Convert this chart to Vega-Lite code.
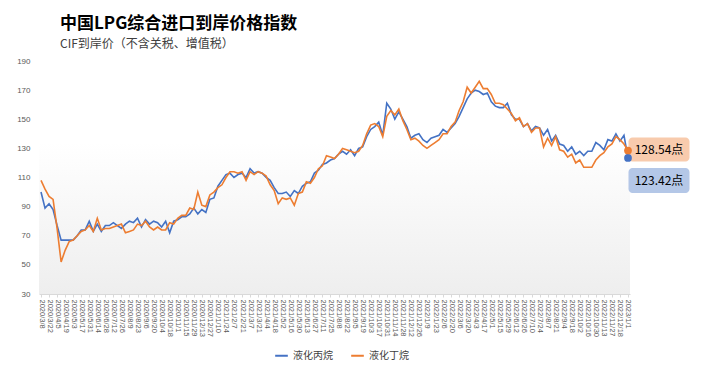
{
  "$schema": "https://vega.github.io/schema/vega-lite/v6.json",
  "width": 591,
  "height": 233,
  "autosize": "none",
  "padding": {"left": 39, "top": 61, "right": 72, "bottom": 77},
  "background": "white",
  "title": {
    "text": "中国LPG综合进口到岸价格指数",
    "subtitle": "CIF到岸价（不含关税、增值税）",
    "anchor": "start",
    "frame": "group",
    "dx": 21,
    "offset": 6,
    "font": "Noto Sans CJK SC",
    "fontSize": 17,
    "fontWeight": "bold",
    "color": "#000000",
    "subtitleFont": "Noto Sans CJK SC",
    "subtitleFontSize": 12,
    "subtitleColor": "#404040",
    "subtitlePadding": 6
  },
  "config": {
    "font": "Noto Sans CJK SC",
    "view": {
      "stroke": null,
      "fill": {"gradient": "linear", "x1": 0, "y1": 0, "x2": 0, "y2": 1,
        "stops": [{"offset": 0, "color": "#ffffff"}, {"offset": 0.35, "color": "#ffffff"}, {"offset": 1, "color": "#eeeeee"}]}
    }
  },
  "datasets": {
    "main": [
      {"d":"2020/3/8","液化丙烷":100,"液化丁烷":108},
      {"d":"2020/3/15","液化丙烷":89,"液化丁烷":102},
      {"d":"2020/3/22","液化丙烷":92,"液化丁烷":97},
      {"d":"2020/3/29","液化丙烷":88,"液化丁烷":95},
      {"d":"2020/4/5","液化丙烷":77,"液化丁烷":75},
      {"d":"2020/4/12","液化丙烷":67,"液化丁烷":52},
      {"d":"2020/4/19","液化丙烷":67,"液化丁烷":60},
      {"d":"2020/4/26","液化丙烷":67,"液化丁烷":66},
      {"d":"2020/5/3","液化丙烷":67,"液化丁烷":67},
      {"d":"2020/5/10","液化丙烷":70,"液化丁烷":70},
      {"d":"2020/5/17","液化丙烷":74,"液化丁烷":73},
      {"d":"2020/5/24","液化丙烷":74,"液化丁烷":74},
      {"d":"2020/5/31","液化丙烷":80,"液化丁烷":77},
      {"d":"2020/6/7","液化丙烷":73,"液化丁烷":73},
      {"d":"2020/6/14","液化丙烷":78,"液化丁烷":82},
      {"d":"2020/6/21","液化丙烷":73,"液化丁烷":74},
      {"d":"2020/6/28","液化丙烷":77,"液化丁烷":75},
      {"d":"2020/7/5","液化丙烷":77,"液化丁烷":75},
      {"d":"2020/7/12","液化丙烷":79,"液化丁烷":76},
      {"d":"2020/7/19","液化丙烷":77,"液化丁烷":77},
      {"d":"2020/7/26","液化丙烷":75,"液化丁烷":78},
      {"d":"2020/8/2","液化丙烷":78,"液化丁烷":72},
      {"d":"2020/8/9","液化丙烷":80,"液化丁烷":73},
      {"d":"2020/8/16","液化丙烷":79,"液化丁烷":74},
      {"d":"2020/8/23","液化丙烷":82,"液化丁烷":78},
      {"d":"2020/8/30","液化丙烷":76,"液化丁烷":77},
      {"d":"2020/9/6","液化丙烷":81,"液化丁烷":80},
      {"d":"2020/9/13","液化丙烷":78,"液化丁烷":76},
      {"d":"2020/9/20","液化丙烷":80,"液化丁烷":74},
      {"d":"2020/9/27","液化丙烷":79,"液化丁烷":76},
      {"d":"2020/10/4","液化丙烷":76,"液化丁烷":74},
      {"d":"2020/10/11","液化丙烷":80,"液化丁烷":74},
      {"d":"2020/10/18","液化丙烷":72,"液化丁烷":79},
      {"d":"2020/10/25","液化丙烷":80,"液化丁烷":78},
      {"d":"2020/11/1","液化丙烷":81,"液化丁烷":82},
      {"d":"2020/11/8","液化丙烷":83,"液化丁烷":84},
      {"d":"2020/11/15","液化丙烷":83,"液化丁烷":84},
      {"d":"2020/11/22","液化丙烷":85,"液化丁烷":89},
      {"d":"2020/11/29","液化丙烷":89,"液化丁烷":88},
      {"d":"2020/12/6","液化丙烷":85,"液化丁烷":100},
      {"d":"2020/12/13","液化丙烷":88,"液化丁烷":91},
      {"d":"2020/12/20","液化丙烷":86,"液化丁烷":90},
      {"d":"2020/12/27","液化丙烷":95,"液化丁烷":98},
      {"d":"2021/1/3","液化丙烷":96,"液化丁烷":100},
      {"d":"2021/1/10","液化丙烷":104,"液化丁烷":103},
      {"d":"2021/1/17","液化丙烷":108,"液化丁烷":105},
      {"d":"2021/1/24","液化丙烷":112,"液化丁烷":110},
      {"d":"2021/1/31","液化丙烷":113,"液化丁烷":114},
      {"d":"2021/2/7","液化丙烷":110,"液化丁烷":114},
      {"d":"2021/2/14","液化丙烷":112,"液化丁烷":113},
      {"d":"2021/2/21","液化丙烷":113,"液化丁烷":114},
      {"d":"2021/2/28","液化丙烷":110,"液化丁烷":108},
      {"d":"2021/3/7","液化丙烷":116,"液化丁烷":114},
      {"d":"2021/3/14","液化丙烷":113,"液化丁烷":112},
      {"d":"2021/3/21","液化丙烷":114,"液化丁烷":114},
      {"d":"2021/3/28","液化丙烷":113,"液化丁烷":113},
      {"d":"2021/4/4","液化丙烷":110,"液化丁烷":111},
      {"d":"2021/4/11","液化丙烷":108,"液化丁烷":105},
      {"d":"2021/4/18","液化丙烷":103,"液化丁烷":101},
      {"d":"2021/4/25","液化丙烷":99,"液化丁烷":92},
      {"d":"2021/5/2","液化丙烷":99,"液化丁烷":96},
      {"d":"2021/5/9","液化丙烷":100,"液化丁烷":95},
      {"d":"2021/5/16","液化丙烷":97,"液化丁烷":96},
      {"d":"2021/5/23","液化丙烷":101,"液化丁烷":91},
      {"d":"2021/5/30","液化丙烷":99,"液化丁烷":99},
      {"d":"2021/6/6","液化丙烷":104,"液化丁烷":100},
      {"d":"2021/6/13","液化丙烷":106,"液化丁烷":107},
      {"d":"2021/6/20","液化丙烷":107,"液化丁烷":106},
      {"d":"2021/6/27","液化丙烷":113,"液化丁烷":110},
      {"d":"2021/7/4","液化丙烷":115,"液化丁烷":116},
      {"d":"2021/7/11","液化丙烷":119,"液化丁烷":118},
      {"d":"2021/7/18","液化丙烷":120,"液化丁烷":125},
      {"d":"2021/7/25","液化丙烷":122,"液化丁烷":124},
      {"d":"2021/8/1","液化丙烷":123,"液化丁烷":123},
      {"d":"2021/8/8","液化丙烷":126,"液化丁烷":126},
      {"d":"2021/8/15","液化丙烷":128,"液化丁烷":130},
      {"d":"2021/8/22","液化丙烷":126,"液化丁烷":129},
      {"d":"2021/8/29","液化丙烷":129,"液化丁烷":128},
      {"d":"2021/9/5","液化丙烷":125,"液化丁烷":127},
      {"d":"2021/9/12","液化丙烷":130,"液化丁烷":128},
      {"d":"2021/9/19","液化丙烷":131,"液化丁烷":132},
      {"d":"2021/9/26","液化丙烷":138,"液化丁烷":140},
      {"d":"2021/10/3","液化丙烷":143,"液化丁烷":146},
      {"d":"2021/10/10","液化丙烷":145,"液化丁烷":147},
      {"d":"2021/10/17","液化丙烷":148,"液化丁烷":145},
      {"d":"2021/10/24","液化丙烷":139,"液化丁烷":138},
      {"d":"2021/10/31","液化丙烷":161,"液化丁烷":152},
      {"d":"2021/11/7","液化丙烷":157,"液化丁烷":156},
      {"d":"2021/11/14","液化丙烷":150,"液化丁烷":153},
      {"d":"2021/11/21","液化丙烷":155,"液化丁烷":157},
      {"d":"2021/11/28","液化丙烷":150,"液化丁烷":149},
      {"d":"2021/12/5","液化丙烷":145,"液化丁烷":143},
      {"d":"2021/12/12","液化丙烷":137,"液化丁烷":136},
      {"d":"2021/12/19","液化丙烷":139,"液化丁烷":137},
      {"d":"2021/12/26","液化丙烷":140,"液化丁烷":135},
      {"d":"2022/1/2","液化丙烷":136,"液化丁烷":132},
      {"d":"2022/1/9","液化丙烷":134,"液化丁烷":130},
      {"d":"2022/1/16","液化丙烷":137,"液化丁烷":132},
      {"d":"2022/1/23","液化丙烷":138,"液化丁烷":134},
      {"d":"2022/1/30","液化丙烷":139,"液化丁烷":136},
      {"d":"2022/2/6","液化丙烷":143,"液化丁烷":140},
      {"d":"2022/2/13","液化丙烷":141,"液化丁烷":140},
      {"d":"2022/2/20","液化丙烷":144,"液化丁烷":145},
      {"d":"2022/2/27","液化丙烷":147,"液化丁烷":148},
      {"d":"2022/3/6","液化丙烷":152,"液化丁烷":156},
      {"d":"2022/3/13","液化丙烷":158,"液化丁烷":162},
      {"d":"2022/3/20","液化丙烷":164,"液化丁烷":172},
      {"d":"2022/3/27","液化丙烷":168,"液化丁烷":168},
      {"d":"2022/4/3","液化丙烷":170,"液化丁烷":172},
      {"d":"2022/4/10","液化丙烷":169,"液化丁烷":176},
      {"d":"2022/4/17","液化丙烷":167,"液化丁烷":171},
      {"d":"2022/4/24","液化丙烷":168,"液化丁烷":171},
      {"d":"2022/5/1","液化丙烷":162,"液化丁烷":167},
      {"d":"2022/5/8","液化丙烷":159,"液化丁烷":161},
      {"d":"2022/5/15","液化丙烷":158,"液化丁烷":161},
      {"d":"2022/5/22","液化丙烷":158,"液化丁烷":160},
      {"d":"2022/5/29","液化丙烷":161,"液化丁烷":157},
      {"d":"2022/6/5","液化丙烷":153,"液化丁烷":154},
      {"d":"2022/6/12","液化丙烷":150,"液化丁烷":149},
      {"d":"2022/6/19","液化丙烷":150,"液化丁烷":151},
      {"d":"2022/6/26","液化丙烷":145,"液化丁烷":145},
      {"d":"2022/7/3","液化丙烷":147,"液化丁烷":147},
      {"d":"2022/7/10","液化丙烷":142,"液化丁烷":141},
      {"d":"2022/7/17","液化丙烷":145,"液化丁烷":144},
      {"d":"2022/7/24","液化丙烷":144,"液化丁烷":144},
      {"d":"2022/7/31","液化丙烷":139,"液化丁烷":131},
      {"d":"2022/8/7","液化丙烷":143,"液化丁烷":137},
      {"d":"2022/8/14","液化丙烷":135,"液化丁烷":132},
      {"d":"2022/8/21","液化丙烷":139,"液化丁烷":138},
      {"d":"2022/8/28","液化丙烷":133,"液化丁烷":129},
      {"d":"2022/9/4","液化丙烷":132,"液化丁烷":128},
      {"d":"2022/9/11","液化丙烷":128,"液化丁烷":124},
      {"d":"2022/9/18","液化丙烷":131,"液化丁烷":126},
      {"d":"2022/9/25","液化丙烷":126,"液化丁烷":120},
      {"d":"2022/10/2","液化丙烷":128,"液化丁烷":122},
      {"d":"2022/10/9","液化丙烷":125,"液化丁烷":117},
      {"d":"2022/10/16","液化丙烷":128,"液化丁烷":117},
      {"d":"2022/10/23","液化丙烷":128,"液化丁烷":117},
      {"d":"2022/10/30","液化丙烷":134,"液化丁烷":122},
      {"d":"2022/11/6","液化丙烷":132,"液化丁烷":125},
      {"d":"2022/11/13","液化丙烷":129,"液化丁烷":127},
      {"d":"2022/11/20","液化丙烷":136,"液化丁烷":131},
      {"d":"2022/11/27","液化丙烷":135,"液化丁烷":133},
      {"d":"2022/12/4","液化丙烷":140,"液化丁烷":138},
      {"d":"2022/12/18","液化丙烷":135,"液化丁烷":136},
      {"d":"2022/12/25","液化丙烷":139,"液化丁烷":133},
      {"d":"2023/1/1","液化丙烷":123.42,"液化丁烷":128.54}
    ]
  },
  "data": {"name": "main"},
  "transform": [{"fold": ["液化丙烷", "液化丁烷"], "as": ["series", "value"]}],
  "encoding": {
    "x": {
      "field": "d", "type": "ordinal", "sort": null,
      "scale": {"type": "point", "padding": 0.5},
      "axis": {
        "title": null, "labelAngle": 90, "labelFontSize": 7.5, "labelColor": "#595959",
        "labelFont": "Liberation Sans", "labelOverlap": false, "labelPadding": 2,
        "tickSize": 3, "tickColor": "#d9d9d9", "domainColor": "#d9d9d9",
        "values": ["2020/3/8","2020/3/22","2020/4/5","2020/4/19","2020/5/3","2020/5/17","2020/5/31","2020/6/14","2020/6/28","2020/7/12","2020/7/26","2020/8/9","2020/8/23","2020/9/6","2020/9/20","2020/10/4","2020/10/18","2020/11/1","2020/11/15","2020/11/29","2020/12/13","2020/12/27","2021/1/10","2021/1/24","2021/2/7","2021/2/21","2021/3/7","2021/3/21","2021/4/4","2021/4/18","2021/5/2","2021/5/16","2021/5/30","2021/6/13","2021/6/27","2021/7/11","2021/7/25","2021/8/8","2021/8/22","2021/9/5","2021/9/19","2021/10/3","2021/10/17","2021/10/31","2021/11/14","2021/11/28","2021/12/12","2021/12/26","2022/1/9","2022/1/23","2022/2/6","2022/2/20","2022/3/6","2022/3/20","2022/4/3","2022/4/17","2022/5/1","2022/5/15","2022/5/29","2022/6/12","2022/6/26","2022/7/10","2022/7/24","2022/8/7","2022/8/21","2022/9/4","2022/9/18","2022/10/2","2022/10/16","2022/10/30","2022/11/13","2022/11/27","2022/12/18","2023/1/1"]
      }
    },
    "y": {
      "field": "value", "type": "quantitative",
      "scale": {"domain": [30, 190], "nice": false, "zero": false},
      "axis": {
        "title": null, "values": [30, 50, 70, 90, 110, 130, 150, 170, 190],
        "domain": false, "ticks": false, "grid": false,
        "labelColor": "#595959", "labelFontSize": 8, "labelFont": "Liberation Sans", "labelPadding": 9
      }
    },
    "color": {
      "field": "series", "type": "nominal",
      "scale": {"domain": ["液化丙烷", "液化丁烷"], "range": ["#4472C4", "#ED7D31"]},
      "legend": {
        "title": null, "orient": "none", "direction": "horizontal",
        "legendX": 235, "legendY": 287,
        "symbolType": "stroke", "symbolStrokeWidth": 2, "symbolSize": 160,
        "labelFontSize": 10, "labelColor": "#404040", "columnPadding": 14
      }
    }
  },
  "layer": [
    {"mark": {"type": "line", "strokeWidth": 1.6}},
    {
      "transform": [{"filter": "datum.d == '2023/1/1' && datum.series == '液化丁烷'"}],
      "mark": {"type": "rect", "width": 61, "height": 24, "cornerRadius": 4, "fill": "#F8CBAD", "xOffset": 31, "yOffset": -1},
      "encoding": {"color": {"value": "#F8CBAD"}}
    },
    {
      "transform": [{"filter": "datum.d == '2023/1/1' && datum.series == '液化丙烷'"}],
      "mark": {"type": "rect", "width": 61, "height": 25, "cornerRadius": 4, "fill": "#B4C7E7", "xOffset": 31, "yOffset": 22.6},
      "encoding": {"color": {"value": "#B4C7E7"}}
    },
    {
      "transform": [{"filter": "datum.d == '2023/1/1' && datum.series == '液化丁烷'"}, {"calculate": "format(datum.value, '.2f') + '点'", "as": "lbl"}],
      "mark": {"type": "text", "fontSize": 12, "dx": 31, "dy": -1, "color": "#000000"},
      "encoding": {"text": {"field": "lbl"}, "color": {"value": "#000000"}}
    },
    {
      "transform": [{"filter": "datum.d == '2023/1/1' && datum.series == '液化丙烷'"}, {"calculate": "format(datum.value, '.2f') + '点'", "as": "lbl"}],
      "mark": {"type": "text", "fontSize": 12, "dx": 31, "dy": 22.6, "color": "#000000"},
      "encoding": {"text": {"field": "lbl"}, "color": {"value": "#000000"}}
    },
    {
      "transform": [{"filter": "datum.d == '2023/1/1'"}],
      "mark": {"type": "point", "filled": true, "size": 60, "opacity": 1}
    }
  ]
}
